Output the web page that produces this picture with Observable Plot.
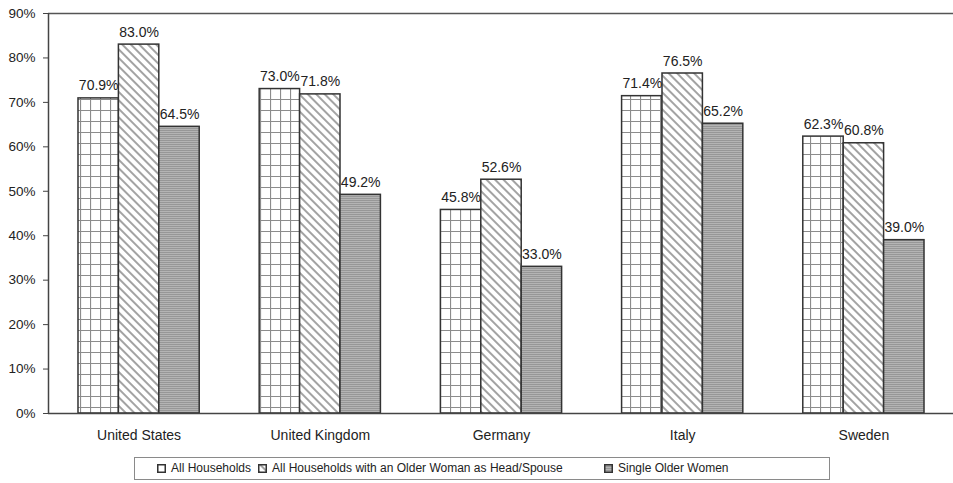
<!DOCTYPE html>
<html>
<head>
<meta charset="utf-8">
<script src="https://cdn.jsdelivr.net/npm/d3@7"></script>
<script src="https://cdn.jsdelivr.net/npm/@observablehq/plot@0.6"></script>
<style>
  html, body { margin: 0; padding: 0; background: #fff; }
  body { width: 953px; height: 483px; overflow: hidden; font-family: "Liberation Sans", Arial, sans-serif; }
  #chart svg { display: block; }
  .legend { position: absolute; left: 134px; top: 457px; width: 696px; height: 23px; border: 1px solid #8a8a8a; box-sizing: border-box;
    font-size: 12px; color: #222; }
  .legend .item { display: flex; align-items: center; position: absolute; top: 3px; white-space: nowrap; }
  .legend svg { margin-right: 5px; }
</style>
</head>
<body>
<svg width="0" height="0" style="position:absolute">
  <defs>
    <pattern id="grid" patternUnits="userSpaceOnUse" width="10" height="11">
      <rect width="10" height="11" fill="#fff"/>
      <path d="M0,0.5H10M0.5,0V11" stroke="#8c8c8c" stroke-width="1.2"/>
    </pattern>
    <pattern id="diag" patternUnits="userSpaceOnUse" width="6" height="6" patternTransform="rotate(-45)">
      <rect width="6" height="6" fill="#fff"/>
      <line x1="1" y1="0" x2="1" y2="6" stroke="#999" stroke-width="1.8"/>
    </pattern>
    <pattern id="hlines" patternUnits="userSpaceOnUse" width="4" height="2">
      <rect width="4" height="2" fill="#b4b4b4"/>
      <rect width="4" height="1" fill="#979797"/>
    </pattern>
  </defs>
</svg>
<div id="chart"></div>
<div class="legend" id="legend"></div>
<script>
const countries = ["United States", "United Kingdom", "Germany", "Italy", "Sweden"];
const seriesNames = ["All Households", "All Households with an Older Woman as Head/Spouse", "Single Older Women"];
const allHouseholds = [70.9, 73.0, 45.8, 71.4, 62.3];
const olderWomanHead = [83.0, 71.8, 52.6, 76.5, 60.8];
const singleOlderWomen = [64.5, 49.2, 33.0, 65.2, 39.0];
const yTicks = [0, 10, 20, 30, 40, 50, 60, 70, 80, 90];
const patterns = ["url(#grid)", "url(#diag)", "url(#hlines)"];

const seriesValues = [allHouseholds, olderWomanHead, singleOlderWomen];
const barWidth = 0.223; // fraction of a category step
const data = [];
countries.forEach((c, i) => {
  seriesValues.forEach((vals, j) => {
    const x1 = i + (j - 1.5) * barWidth;
    data.push({country: c, series: seriesNames[j], value: vals[i], x1, x2: x1 + barWidth, xm: x1 + barWidth / 2});
  });
});

const chart = Plot.plot({
  width: 953,
  height: 452,
  marginTop: 13,
  marginBottom: 39,
  marginLeft: 48,
  marginRight: 0,
  style: {fontFamily: "Liberation Sans, Arial, sans-serif", fontSize: "14px", color: "#222", background: "transparent"},
  x: {domain: [-0.5, 4.5], range: [48, 954], axis: null},
  y: {domain: [0, 90], axis: null},
  color: {domain: seriesNames, range: patterns},
  marks: [
    Plot.rectY(data, {x1: "x1", x2: "x2", y: "value", fill: "series", stroke: "#333", strokeWidth: 1.5}),
    Plot.text(data, {x: "xm", y: "value", text: d => d.value.toFixed(1) + "%", lineAnchor: "bottom", dy: -8, fill: "#222", fontSize: 14}),
    Plot.axisX(d3.range(countries.length), {tickFormat: i => countries[i], tickSize: 0, tickPadding: 17, fontSize: 14, fill: "#222", label: null}),
    Plot.axisY(yTicks, {tickFormat: d => d + "%", tickSize: 5, tickPadding: 8, fontSize: 13.5, fill: "#222", stroke: "#444", label: null}),
    Plot.ruleY([0], {stroke: "#444", strokeWidth: 1.5}),
    Plot.ruleY([90], {stroke: "#555", strokeWidth: 1.5}),
    Plot.ruleX([-0.5], {stroke: "#444", strokeWidth: 1.5})
  ]
});
document.getElementById("chart").appendChild(chart);

const legend = document.getElementById("legend");
const legendX = [22, 123, 469];
seriesNames.forEach((name, j) => {
  const item = document.createElement("div");
  item.className = "item";
  item.style.left = legendX[j] + "px";
  item.innerHTML = `<svg width="9" height="9"><rect x="0.75" y="0.75" width="7.5" height="7.5" fill="${patterns[j]}" stroke="#333" stroke-width="1.5"/></svg><span>${name}</span>`;
  legend.appendChild(item);
});
</script>
</body>
</html>
